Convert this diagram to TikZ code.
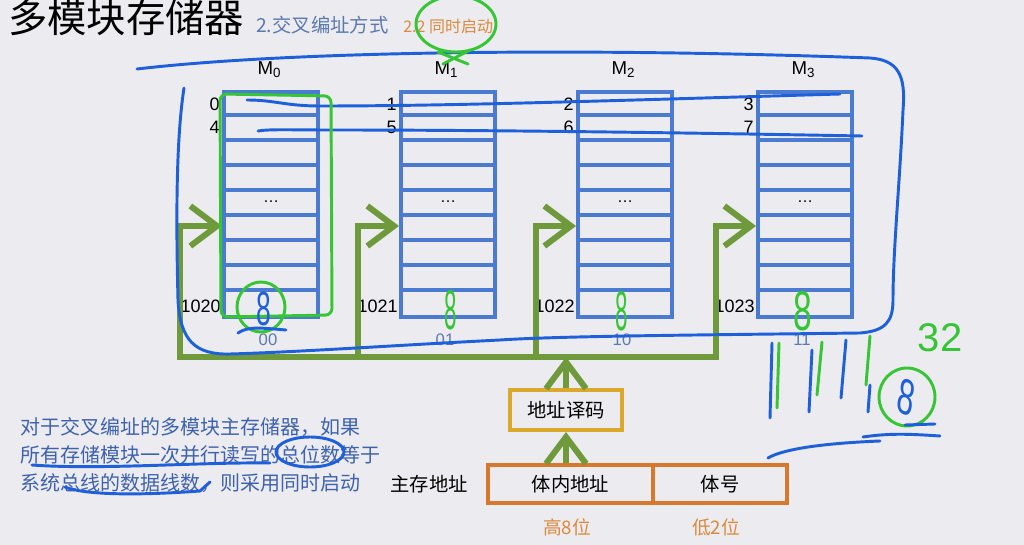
\documentclass[tikz,border=0pt]{standalone}
\usepackage{fontspec}
\setmainfont{Liberation Sans}
\newfontfamily\cjk{Noto Sans CJK SC}
\usetikzlibrary{arrows.meta,calc}
\definecolor{bg}{HTML}{ECEBEF}
\definecolor{modblue}{HTML}{4A7BD0}
\definecolor{grn}{HTML}{6E9A3C}
\definecolor{yel}{HTML}{D9A92B}
\definecolor{org}{HTML}{D8782C}
\definecolor{txtblue}{HTML}{3E63AC}
\definecolor{subblue}{HTML}{5A7AAE}
\definecolor{inkblue}{HTML}{1E5FDA}
\definecolor{inkgreen}{HTML}{35C535}
\definecolor{lorange}{HTML}{D98A3C}
\tikzset{
  modbox/.style={draw=modblue, line width=3pt, minimum width=70.5pt, minimum height=168.75pt, inner sep=0pt},
  modline/.style={draw=modblue, line width=3pt},
  gline/.style={draw=grn, line width=4.5pt},
  gtip/.style={-{Straight Barb[length=20pt,width=30pt]}},
  lbl/.style={font=\fontsize{13.5}{14}\selectfont, inner sep=0pt},
  bitlbl/.style={font=\fontsize{12.5}{13}\selectfont, text=subblue, inner sep=0pt},
  decbox/.style={draw=yel, line width=3pt, minimum width=84pt, minimum height=30pt, font=\cjk\fontsize{14.5}{15}\selectfont},
  addrbox/.style={draw=org, line width=3pt, minimum height=28.5pt, font=\cjk\fontsize{14.5}{15}\selectfont},
  cjktext/.style={font=\cjk\fontsize{14.5}{15}\selectfont, inner sep=0pt},
  para/.style={font=\cjk\fontsize{15}{16}\selectfont, text=txtblue, anchor=base west, inner sep=0pt},
  ink/.style={draw=inkblue, line width=2.2pt, line cap=round, line join=round},
  gink/.style={draw=inkgreen, line width=2.2pt, line cap=round, line join=round},
  eight/.style={font=\fontsize{42}{42}\selectfont, inner sep=0pt},
}
\begin{document}
\begin{tikzpicture}[x=0.75pt,y=-0.75pt]
\fill[bg] (0,0) rectangle (1024,545);
\useasboundingbox (0,0) rectangle (1024,545);

% title
\node[anchor=base west, inner sep=0pt, font=\cjk\fontsize{29.5}{30}\selectfont] (title) at (8,33) {多模块存储器};
\node[anchor=base west, inner sep=0pt, text=subblue, font=\cjk\fontsize{14.5}{15}\selectfont] (sub) at (256,33) {2.交叉编址方式};
\node[anchor=base west, inner sep=0pt, text=lorange, font=\cjk\fontsize{12}{12}\selectfont] (subsub) at (403,33) {2.2 同时启动};

% modules
\foreach \i/\x/\c in {0/224/00,1/401/01,2/578/10,3/758/11}{
  \node[modbox] (m\i) at (\x+47,204.5) {};
  \foreach \k in {1,...,8}{
    \draw[modline] ($(m\i.north west)+(0,25*\k)$) -- ($(m\i.north east)+(0,25*\k)$);
  }
  \node[font=\fontsize{12}{12}\selectfont, inner sep=0pt] (dots\i) at ($(m\i.center)+(0,-3)$) {\dots};
  \node[font=\fontsize{14}{14}\selectfont, inner sep=0pt] (mlab\i) at (\x+45,70) {M\raisebox{-0.3ex}{\fontsize{10}{10}\selectfont\i}};
  \node[bitlbl] (bit\i) at (\x+44,340) {\c};
  \coordinate (min\i) at ($(m\i.north west)+(0,136)$);
}
\foreach \i/\x in {0/224,1/401,2/578,3/758}{
  \pgfmathtruncatemacro{\a}{\i+4}
  \pgfmathtruncatemacro{\b}{\i+1020}
  \node[lbl, anchor=east] (ad\i) at (\x-4,104) {\i};
  \node[lbl, anchor=east] (ae\i) at (\x-4,127) {\a};
  \node[lbl, anchor=east] (af\i) at (\x-3,306) {\b};
}

% green bus
\coordinate (b0) at (180,357);
\coordinate (b1) at (358,357);
\coordinate (b2) at (536,357);
\coordinate (b3) at (716,357);
\draw[gline, line cap=rect] (b0) -- (b3);
\foreach \i in {0,1,2,3}{
  \draw[gline, gtip] (b\i) |- (min\i);
}

% decoder and address
\node[decbox] (dec) at (566,410) {地址译码};
\node[addrbox, minimum width=123.75pt] (ain) at (570.5,484) {体内地址};
\node[addrbox, minimum width=100.5pt] (anum) at (720,484) {体号};
\node[cjktext, anchor=east] (mainaddr) at (468,484) {主存地址};
\node[cjktext, text=lorange, font=\cjk\fontsize{14}{14}\selectfont] (hi) at (567,527) {高8位};
\node[cjktext, text=lorange, font=\cjk\fontsize{14}{14}\selectfont] (lo) at (716,527) {低2位};
\draw[gline, gtip] (dec.south |- ain.north) -- (dec.south);
\draw[gline, gtip] (dec.north) -- (dec.north |- b0);

% paragraph
\node[para] (p1) at (20,434) {对于交叉编址的多模块主存储器，如果};
\node[para] (p2) at (20,462) {所有存储模块一次并行读写的总位数等于};
\node[para] (p3) at (20,490) {系统总线的数据线数，则采用同时启动};

% ---- handwritten annotations ----
\draw[ink] (137,69) .. controls (300,50) and (600,48) .. (870,58)
  .. controls (898,60) and (906,75) .. (903,110)
  .. controls (900,180) and (893,250) .. (893,300)
  .. controls (893,322) and (885,331) .. (860,333)
  .. controls (700,335) and (560,336) .. (500,340)
  .. controls (400,345) and (300,352) .. (230,354)
  .. controls (195,355) and (180,340) .. (178,300)
  .. controls (176,220) and (176,140) .. (184,88);
\draw[ink] (247,100) .. controls (275,100) and (285,106) .. (320,106) .. controls (450,106) and (600,101) .. (840,94);
\draw[ink] (258,131) .. controls (270,129) and (290,130) .. (330,130) .. controls (500,130) and (700,133) .. (862,136);

\draw[gink, rounded corners=5pt] (220,94) -- (331,96) -- (332,315) -- (221,317) -- cycle;
\draw[gink] (261,307) ellipse (24 and 25);
\node[eight, text=inkblue, xscale=0.55, font=\fontsize{36}{36}\selectfont] (e0) at (264,309) {8};
\draw[ink] (238,333) .. controls (248,326) and (262,328) .. (286,330);
\node[eight, text=inkgreen, xscale=0.4] (e1) at (451,310) {8};
\node[eight, text=inkgreen, xscale=0.4] (e2) at (622,311) {8};
\node[eight, text=inkgreen, xscale=0.6] (e3) at (803,311) {8};

\draw[gink] (456,24) ellipse (40 and 28);
\draw[gink] (438,52) -- (468,64);
\draw[gink] (443,64) -- (470,50);

% paragraph marks
\draw[ink] (32,465) .. controls (100,470) and (200,462) .. (270,463);
\draw[ink] (310,452) ellipse (34 and 15);
\draw[ink] (65,487) .. controls (90,497) and (160,494) .. (200,491) -- (210,482);

% bottom right strokes
\draw[ink] (772,343) -- (770,418);
\draw[ink] (812,350) -- (809,412);
\draw[ink] (846,340) -- (841,398);
\draw[ink] (870,385) -- (868,412);
\draw[gink] (779,343) -- (777,408);
\draw[gink] (822,342) -- (817,395);
\draw[gink] (870,336) -- (866,385);
\node[eight, text=inkgreen, font=\fontsize{30}{30}\selectfont] (n32) at (940,338) {32};
\draw[gink] (907,397) ellipse (28 and 29);
\node[eight, text=inkblue, xscale=0.6, rotate=-15, font=\fontsize{38}{38}\selectfont] (e4) at (906,397) {8};
\draw[ink] (905,425) -- (935,424);
\draw[ink] (863,437) .. controls (890,433) and (910,434) .. (940,436);
\draw[ink] (768,458) .. controls (785,448) and (830,443) .. (880,441);
\end{tikzpicture}
\end{document}
